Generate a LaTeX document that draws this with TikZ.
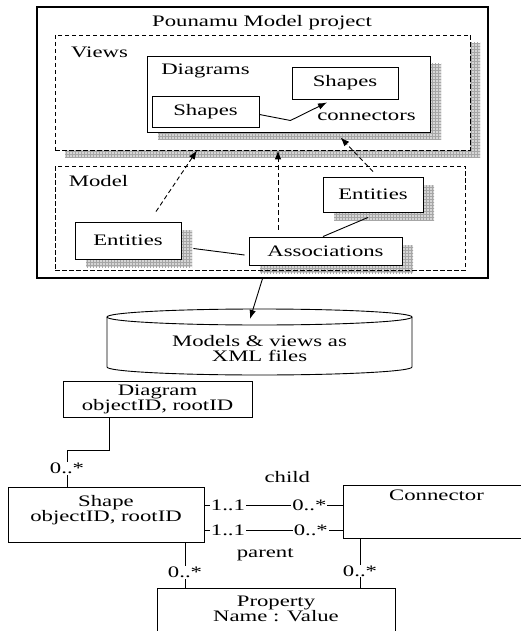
\documentclass[tikz,border=0pt]{standalone}
\usepackage{fontspec}
\setmainfont{Liberation Serif}[FakeStretch=1.42]
\usetikzlibrary{arrows.meta, positioning, patterns}

\begin{document}
\begin{tikzpicture}[
    x=1pt, y=-1pt,
    font=\fontsize{16}{15}\selectfont,
    box/.style={rectangle, draw, line width=0.9pt, fill=white, align=center},
    group/.style={rectangle, draw, line width=0.9pt, dash pattern=on 4.5pt off 2.5pt},
    shadowed/.style={preaction={draw=none, fill=black!16, transform canvas={shift={(#1)}}}, preaction={draw=none, pattern=grid, pattern color=black!35, transform canvas={shift={(#1)}}}},
    shadowed/.default={11pt,-8pt},
    link/.style={line width=0.9pt},
    arrow/.style={-{Latex[length=9pt, width=6.5pt]}, line width=0.9pt},
    dep/.style={arrow, dash pattern=on 4.5pt off 3pt},
    mult/.style={fill=white, inner sep=1pt}
]
\useasboundingbox (0,0) rectangle (520,631);
\node[rectangle, draw, line width=1.2pt, inner sep=0pt, minimum width=451pt, minimum height=271pt] (project) at (262.5,142.5) {};
\node (title) at (262,23) {Pounamu Model project};
\node[group, shadowed={10pt,-8pt}, fill=white, minimum width=415pt, minimum height=115pt] (views) at (262.5,92.5) {};
\node (viewslbl) at (99.5,52) {Views};
\node[box, shadowed, minimum width=283pt, minimum height=76pt] (diagrams) at (288.5,94) {};
\node (diagramslbl) at (205.5,71) {Diagrams};
\node[box, minimum width=106pt, minimum height=32pt] (shapesR) at (345,83) {Shapes};
\node[box, minimum width=107pt, minimum height=31pt] (shapesL) at (205.5,111.5) {Shapes};
\node (connlbl) at (366.5,116) {connectors};
\draw[arrow] ([yshift=-3pt]shapesL.east) -- ++(31,6) -- ([xshift=-18pt,yshift=-3pt]shapesR.south);
\node[box, shadowed, minimum width=100pt, minimum height=35pt] (entR) at (373,194.5) {Entities};
\node[box, shadowed, minimum width=106pt, minimum height=37pt] (entL) at (128,240.5) {Entities};
\node[box, shadowed, minimum width=153pt, minimum height=28pt] (assoc) at (325.5,251) {Associations};
\node[group, minimum width=410pt, minimum height=104pt] (model) at (260,218) {};
\node (modellbl) at (98.5,181) {Model};
\draw[link] ([xshift=12pt,yshift=-8pt]entL.east) -- ([xshift=-4pt,yshift=-4pt]assoc.west);
\draw[link] ([xshift=-5pt,yshift=-5pt]entR.south) -- ([xshift=-2.5pt]assoc.north);
\draw[dep] ([xshift=28pt,yshift=10pt]entL.north) -- ([xshift=-65.5pt]views.south);
\draw[dep] ([xshift=-47.5pt,yshift=7pt]assoc.north) -- ([xshift=15.5pt]views.south);
\draw[dep] ([yshift=5pt]entR.north) -- ([xshift=52pt,yshift=-5pt]diagrams.south);
\node[align=center, minimum width=305pt, minimum height=66pt] (store) at (259.5,348.5) {Models \& views as\\XML files};
\draw[link] ([shift={(-152.5pt,31.5pt)}]store.center) -- ([shift={(-152.5pt,-18.5pt)}]store.center) arc[start angle=180, end angle=360, x radius=152.5pt, y radius=8pt] -- ([shift={(152.5pt,31.5pt)}]store.center);
\draw[link] ([yshift=31.5pt]store.center) ellipse[x radius=152.5pt, y radius=8pt];
\draw[arrow] (project.south) -- ([shift={(-9.5pt,29.5pt)}]store.center);
\node[box, minimum width=189pt, minimum height=36pt] (diag) at (157.5,399) {Diagram\\objectID, rootID};
\node[box, minimum width=196pt, minimum height=55pt, text depth=13pt] (shape) at (106,514.5) {Shape\\objectID, rootID};
\node[box, minimum width=187pt, minimum height=53pt, text depth=32pt] (conn) at (436.5,511.5) {Connector};
\node[box, minimum width=238pt, minimum height=60pt, text depth=18pt] (prop) at (276,618) {Property\\Name : Value};
\draw[link] ([xshift=-48.5pt]diag.south) -- ++(0,33) -| node[mult, pos=0.75] (m0) {0..*} ([xshift=-39pt]shape.north);
\draw[link] ([yshift=9.5pt]shape.east) -- node[mult, pos=0.17] (m1) {1..1} node[mult, pos=0.76] (m2) {0..*} node[pos=0.6, above=19pt] (child) {child} ([yshift=6.5pt]conn.west);
\draw[link] ([yshift=-15.5pt]shape.east) -- node[mult, pos=0.17] (m3) {1..1} node[mult, pos=0.77] (m4) {0..*} node[pos=0.44, below=15pt] (parent) {parent} ([yshift=-18.5pt]conn.west);
\draw[link] ([xshift=79pt]shape.south) -- node[mult, pos=0.65] (m5) {0..*} ++(0,46);
\draw[link] ([xshift=-76.5pt]conn.south) -- node[mult, pos=0.65] (m6) {0..*} ++(0,50);
\end{tikzpicture}
\end{document}
